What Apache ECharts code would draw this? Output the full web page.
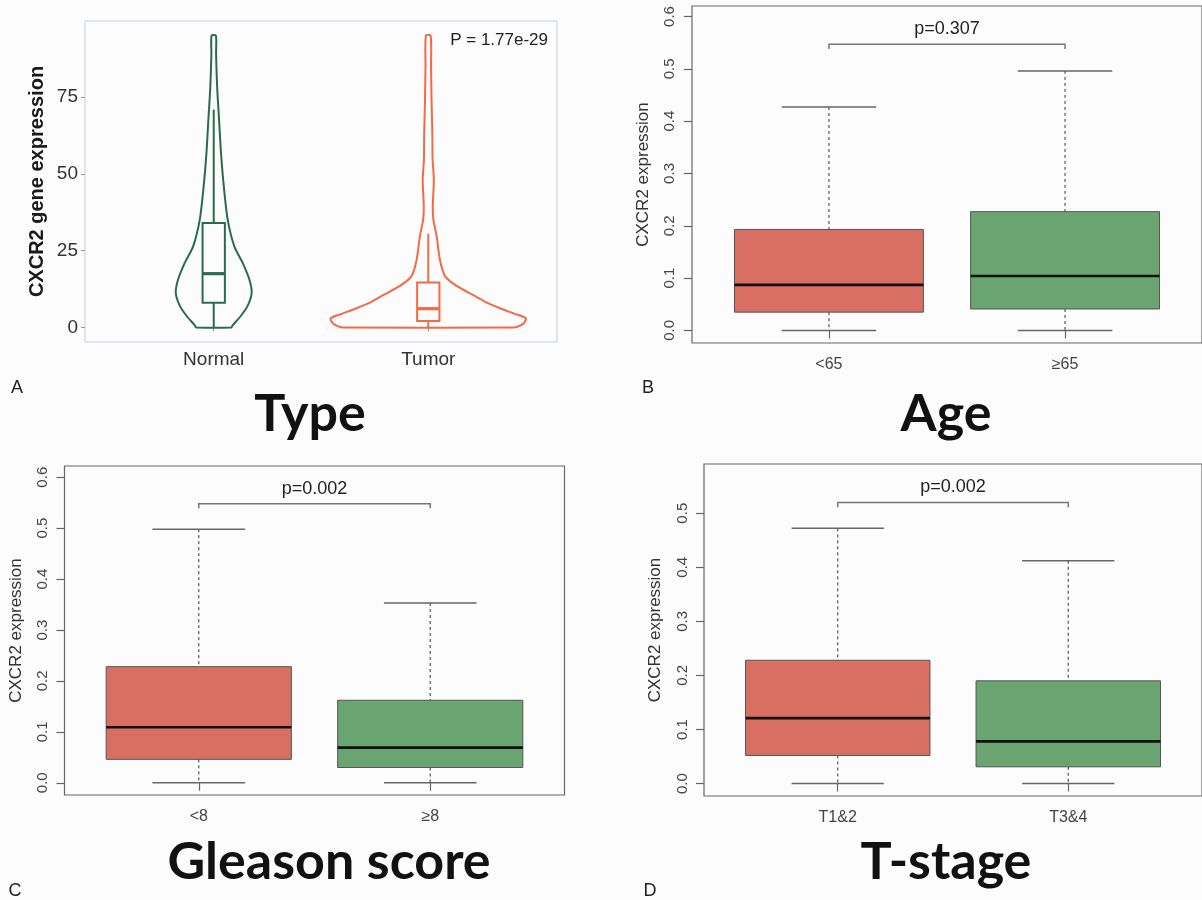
<!DOCTYPE html>
<html>
<head>
<meta charset="utf-8">
<script src="https://cdn.jsdelivr.net/npm/echarts@6/dist/echarts.min.js"></script>
<style>
html,body{margin:0;padding:0;background:#fcfcfd;}
#chart{width:1202px;height:900px;}
</style>
</head>
<body>
<div id="chart"></div>
<script>
// ---------- Panel A: violin (Type) ----------
var typeCategories = ['Normal', 'Tumor'];
var typeYTicks = [0, 25, 50, 75];
// violin outline: expression values and half-widths (in category units)
var normalViolinValues = [0, 0.3, 0.75, 3.8, 7, 11.3, 15.6, 21, 26.4, 35.1, 45.9, 56.7, 67.5, 78.2, 89, 95];
var normalViolinWidths = [0.082, 0.085, 0.089, 0.127, 0.158, 0.177, 0.166, 0.135, 0.096, 0.065, 0.047, 0.034, 0.025, 0.016, 0.011, 0.010];
var tumorViolinValues = [0, 0.5, 1.5, 3.0, 4.5, 6, 8.1, 10.5, 13.5, 16.7, 22.1, 29.7, 35, 39.4, 48, 55, 63, 75, 85, 95];
var tumorViolinWidths = [0.40, 0.425, 0.447, 0.455, 0.40, 0.343, 0.272, 0.21, 0.132, 0.078, 0.054, 0.039, 0.024, 0.021, 0.026, 0.020, 0.019, 0.015, 0.013, 0.011];
// inner boxplots [min, q1, median, q3, max]
var normalBox = [0, 8, 17.5, 34, 70.9];
var tumorBox = [0, 2.1, 6.1, 14.6, 30.5];
var typePText = 'P = 1.77e-29';

// ---------- Panels B-D: boxplots ----------
var ageCategories = ['<65', '\u226565'];
var ageStats = [[0, 0.035, 0.087, 0.193, 0.427], [0, 0.041, 0.104, 0.227, 0.496]];
var agePText = 'p=0.307';
var ageBracket = 0.547;

var gleasonCategories = ['<8', '\u22658'];
var gleasonStats = [[0, 0.046, 0.109, 0.228, 0.498], [0, 0.030, 0.069, 0.162, 0.353]];
var gleasonPText = 'p=0.002';
var gleasonBracket = 0.548;

var stageCategories = ['T1&2', 'T3&4'];
var stageStats = [[0, 0.052, 0.121, 0.228, 0.472], [0, 0.031, 0.078, 0.190, 0.412]];
var stagePText = 'p=0.002';
var stageBracket = 0.520;

var boxYTicksABC = [0, 0.1, 0.2, 0.3, 0.4, 0.5, 0.6];
var boxYTicksD = [0, 0.1, 0.2, 0.3, 0.4, 0.5];

var panelTitles = ['Type', 'Age', 'Gleason score', 'T-stage'];
var panelLetters = ['A', 'B', 'C', 'D'];

// ---------- styles ----------
var FONT = 'Liberation Sans, Arial, sans-serif';
var TITLE_FONT = 'Lato, Noto Sans, sans-serif';
var redFill = '#d96f62';
var greenFill = '#69a471';
var violinColors = ['#2b6a50', '#f26a48'];

var chart = echarts.init(document.getElementById('chart'), null, {renderer: 'canvas'});

function violinRender(profiles, boxes) {
  return function (params, api) {
    var i = params.dataIndex;
    var cx = api.value(0);
    var vals = profiles[i][0], wid = profiles[i][1];
    var pts = [];
    for (var k = 0; k < vals.length; k++) pts.push(api.coord([cx - wid[k], vals[k]]));
    for (var k2 = vals.length - 1; k2 >= 0; k2--) pts.push(api.coord([cx + wid[k2], vals[k2]]));
    var col = violinColors[i];
    var b = boxes[i];
    var hw = 0.052;
    var p1 = api.coord([cx - hw, b[3]]), p2 = api.coord([cx + hw, b[1]]);
    var top = api.coord([cx, b[4]]), q3 = api.coord([cx, b[3]]), q1 = api.coord([cx, b[1]]), bot = api.coord([cx, b[0]]);
    var ml = api.coord([cx - hw, b[2]]), mr = api.coord([cx + hw, b[2]]);
    return {
      type: 'group',
      children: [
        {type: 'polygon', shape: {points: pts, smooth: 0.25}, style: {fill: 'none', stroke: col, lineWidth: 2, lineJoin: 'round'}},
        {type: 'line', shape: {x1: top[0], y1: top[1], x2: q3[0], y2: q3[1]}, style: {stroke: col, lineWidth: 2}},
        {type: 'line', shape: {x1: q1[0], y1: q1[1], x2: bot[0], y2: bot[1]}, style: {stroke: col, lineWidth: 2}},
        {type: 'rect', shape: {x: p1[0], y: p1[1], width: p2[0] - p1[0], height: p2[1] - p1[1]}, style: {fill: 'none', stroke: col, lineWidth: 2}},
        {type: 'line', shape: {x1: ml[0], y1: ml[1], x2: mr[0], y2: mr[1]}, style: {stroke: col, lineWidth: 3.2}}
      ]
    };
  };
}

function boxRender(stats) {
  return function (params, api) {
    var i = params.dataIndex;
    var cx = api.value(0);
    var s = stats[i];
    var fill = i === 0 ? redFill : greenFill;
    var hw = 0.4, cw = 0.2;
    var a = api.coord([cx - hw, s[3]]), b = api.coord([cx + hw, s[1]]);
    var c0 = api.coord([cx, s[0]]), c1 = api.coord([cx, s[1]]), c3 = api.coord([cx, s[3]]), c4 = api.coord([cx, s[4]]);
    var capL0 = api.coord([cx - cw, s[0]]), capR0 = api.coord([cx + cw, s[0]]);
    var capL4 = api.coord([cx - cw, s[4]]), capR4 = api.coord([cx + cw, s[4]]);
    var ml = api.coord([cx - hw, s[2]]), mr = api.coord([cx + hw, s[2]]);
    var wStyle = {stroke: '#555', lineWidth: 1.2, lineDash: [3, 3]};
    var capStyle = {stroke: '#666', lineWidth: 1.5};
    return {
      type: 'group',
      children: [
        {type: 'line', shape: {x1: c4[0], y1: c4[1], x2: c3[0], y2: c3[1]}, style: wStyle},
        {type: 'line', shape: {x1: c1[0], y1: c1[1], x2: c0[0], y2: c0[1]}, style: wStyle},
        {type: 'line', shape: {x1: capL4[0], y1: capL4[1], x2: capR4[0], y2: capR4[1]}, style: capStyle},
        {type: 'line', shape: {x1: capL0[0], y1: capL0[1], x2: capR0[0], y2: capR0[1]}, style: capStyle},
        {type: 'rect', shape: {x: a[0], y: a[1], width: b[0] - a[0], height: b[1] - a[1]}, style: {fill: fill, stroke: '#555', lineWidth: 1}},
        {type: 'line', shape: {x1: ml[0], y1: ml[1], x2: mr[0], y2: mr[1]}, style: {stroke: '#111', lineWidth: 2.6}}
      ]
    };
  };
}

function bracketRender(yv, text) {
  return function (params, api) {
    var l = api.coord([1, yv]), r = api.coord([2, yv]);
    var l2 = api.coord([1, yv - 0.009]), r2 = api.coord([2, yv - 0.009]);
    return {
      type: 'group',
      children: [
        {type: 'polyline', shape: {points: [l2, l, r, r2]}, style: {fill: 'none', stroke: '#777', lineWidth: 1.5}},
        {type: 'text', x: (l[0] + r[0]) / 2, y: l[1] - 6, style: {text: text, fill: '#222', font: '18px ' + FONT, align: 'center', verticalAlign: 'bottom'}}
      ]
    };
  };
}

function rYAxis(gi, min, max, ticks, margin, gap) {
  return {
    type: 'value', gridIndex: gi, min: min, max: max,
    name: 'CXCR2 expression', nameLocation: 'middle', nameGap: gap, nameRotate: 90,
    nameTextStyle: {fontFamily: FONT, fontSize: 17, color: '#333'},
    axisLine: {show: false},
    splitLine: {show: false},
    axisTick: {show: true, length: 8, lineStyle: {color: '#666', width: 1.2}, customValues: ticks},
    axisLabel: {rotate: 90, margin: margin, fontFamily: FONT, fontSize: 15, color: '#444',
      customValues: ticks, formatter: function (v) { return v.toFixed(1); }}
  };
}
function rXAxis(gi, cats, margin) {
  return {
    type: 'value', gridIndex: gi, min: 0.42, max: 2.58,
    axisLine: {show: false},
    splitLine: {show: false},
    axisTick: {show: true, length: 8, lineStyle: {color: '#666', width: 1.2}, customValues: [1, 2]},
    axisLabel: {margin: margin, fontFamily: FONT, fontSize: 16, color: '#444', customValues: [1, 2],
      formatter: function (v) { return cats[Math.round(v) - 1]; }}
  };
}

var option = {
  backgroundColor: '#fcfcfd',
  animation: false,
  grid: [
    {left: 85, top: 21, width: 472, height: 321, show: true, borderColor: '#c5cfd8', borderWidth: 1, backgroundColor: 'transparent'},
    {left: 692, top: 6, width: 512, height: 337, show: true, borderColor: '#666', borderWidth: 1.2, backgroundColor: 'transparent'},
    {left: 64.5, top: 466, width: 500, height: 329, show: true, borderColor: '#666', borderWidth: 1.2, backgroundColor: 'transparent'},
    {left: 704, top: 464, width: 500, height: 332, show: true, borderColor: '#666', borderWidth: 1.2, backgroundColor: 'transparent'}
  ],
  xAxis: [
    {type: 'value', gridIndex: 0, min: 0.4, max: 2.6,
      axisLine: {show: false}, splitLine: {show: false},
      axisTick: {show: true, length: 4, lineStyle: {color: '#999'}, customValues: [1, 2]},
      axisLabel: {margin: 8, fontFamily: FONT, fontSize: 19, color: '#333', customValues: [1, 2],
        formatter: function (v) { return typeCategories[Math.round(v) - 1]; }}},
    rXAxis(1, ageCategories, 14),
    rXAxis(2, gleasonCategories, 14),
    rXAxis(3, stageCategories, 14)
  ],
  yAxis: [
    {type: 'value', gridIndex: 0, min: -4.75, max: 99.75,
      name: 'CXCR2 gene expression', nameLocation: 'middle', nameGap: 38, nameRotate: 90,
      nameTextStyle: {fontFamily: FONT, fontSize: 20, fontWeight: 'bold', color: '#1a1a1a'},
      axisLine: {show: false}, splitLine: {show: false},
      axisTick: {show: true, length: 4, lineStyle: {color: '#999'}, customValues: typeYTicks},
      axisLabel: {margin: 7, fontFamily: FONT, fontSize: 19, color: '#333', customValues: typeYTicks}},
    rYAxis(1, -0.024, 0.62, boxYTicksABC, 15, 40),
    rYAxis(2, -0.024, 0.622, boxYTicksABC, 14, 40),
    rYAxis(3, -0.023, 0.591, boxYTicksD, 14, 40)
  ],
  series: [
    {type: 'custom', xAxisIndex: 0, yAxisIndex: 0, encode: {x: 0, y: 1},
      data: [[1, 0], [2, 0]],
      renderItem: violinRender([[normalViolinValues, normalViolinWidths], [tumorViolinValues, tumorViolinWidths]], [normalBox, tumorBox])},
    {type: 'custom', xAxisIndex: 1, yAxisIndex: 1, encode: {x: 0, y: 1}, data: [[1, 0], [2, 0]], renderItem: boxRender(ageStats)},
    {type: 'custom', xAxisIndex: 1, yAxisIndex: 1, encode: {x: 0, y: 1}, data: [[1.5, 0]], renderItem: bracketRender(ageBracket, agePText)},
    {type: 'custom', xAxisIndex: 2, yAxisIndex: 2, encode: {x: 0, y: 1}, data: [[1, 0], [2, 0]], renderItem: boxRender(gleasonStats)},
    {type: 'custom', xAxisIndex: 2, yAxisIndex: 2, encode: {x: 0, y: 1}, data: [[1.5, 0]], renderItem: bracketRender(gleasonBracket, gleasonPText)},
    {type: 'custom', xAxisIndex: 3, yAxisIndex: 3, encode: {x: 0, y: 1}, data: [[1, 0], [2, 0]], renderItem: boxRender(stageStats)},
    {type: 'custom', xAxisIndex: 3, yAxisIndex: 3, encode: {x: 0, y: 1}, data: [[1.5, 0]], renderItem: bracketRender(stageBracket, stagePText)}
  ],
  graphic: [
    {type: 'text', x: 548, y: 40, style: {text: typePText, font: '17px ' + FONT, fill: '#222', align: 'right', verticalAlign: 'middle'}},
    {type: 'text', x: 310, y: 414, style: {text: panelTitles[0], font: 'bold 52px ' + TITLE_FONT, fill: '#111', align: 'center', verticalAlign: 'middle'}},
    {type: 'text', x: 946, y: 414, style: {text: panelTitles[1], font: 'bold 52px ' + TITLE_FONT, fill: '#111', align: 'center', verticalAlign: 'middle'}},
    {type: 'text', x: 329, y: 862, style: {text: panelTitles[2], font: 'bold 52px ' + TITLE_FONT, fill: '#111', align: 'center', verticalAlign: 'middle'}},
    {type: 'text', x: 946, y: 862, style: {text: panelTitles[3], font: 'bold 52px ' + TITLE_FONT, fill: '#111', align: 'center', verticalAlign: 'middle'}},
    {type: 'text', x: 17, y: 388, style: {text: panelLetters[0], font: '18px ' + FONT, fill: '#222', align: 'center', verticalAlign: 'middle'}},
    {type: 'text', x: 648, y: 388, style: {text: panelLetters[1], font: '18px ' + FONT, fill: '#222', align: 'center', verticalAlign: 'middle'}},
    {type: 'text', x: 15, y: 891, style: {text: panelLetters[2], font: '18px ' + FONT, fill: '#222', align: 'center', verticalAlign: 'middle'}},
    {type: 'text', x: 650, y: 891, style: {text: panelLetters[3], font: '18px ' + FONT, fill: '#222', align: 'center', verticalAlign: 'middle'}}
  ]
};
chart.setOption(option);
</script>
</body>
</html>
